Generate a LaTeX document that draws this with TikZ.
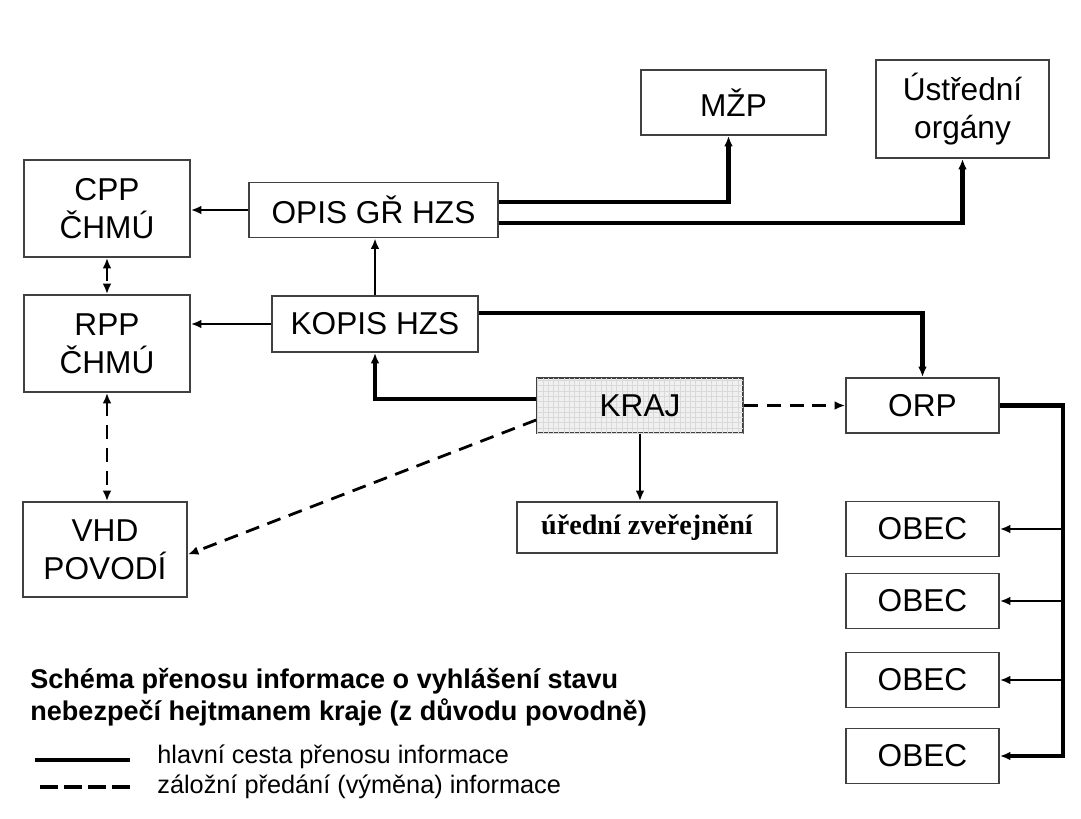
\documentclass[tikz,border=0pt]{standalone}
\usepackage{fontspec}
\setmainfont{Liberation Sans}
\newfontfamily\timesfont{Liberation Serif}
\usetikzlibrary{arrows.meta,patterns}

\begin{document}
\begin{tikzpicture}[x=0.02cm, y=-0.02cm, >={Latex[length=6pt,width=5pt]},
	box/.style={draw=black!75, line width=1pt, align=center, inner sep=0pt,
		font=\fontsize{18}{21.6}\selectfont},
	size/.style 2 args={minimum width=#1*0.02cm, minimum height=#2*0.02cm},
	kraj/.style={fill=gray!12, postaction={pattern=grid, pattern color=gray!30}},
	mainline/.style={line width=1.6pt},
	heavy/.style={line width=2.5pt},
	backup/.style={line width=1.6pt, dash pattern=on 8pt off 5pt},
	heading/.style={anchor=base west, inner sep=0pt, font=\bfseries\fontsize{15.4}{16}\selectfont},
	legend/.style={anchor=west, inner sep=0pt, font=\fontsize{14.4}{16}\selectfont}]
	\useasboundingbox (0,0) rectangle (1081,818);

	\path
		(733.5,102.5) node[box, size={185}{65}] (MZP) {MŽP}
		(962.5,109) node[box, size={173}{98}] (UO) {Ústřední\\orgány}
		(107,208.5) node[box, size={166}{97}] (CPP) {CPP\\ČHMÚ}
		(107,343.5) node[box, size={166}{97}] (RPP) {RPP\\ČHMÚ}
		(373.5,210) node[box, size={249}{55}] (OPIS) {OPIS GŘ HZS}
		(375,324) node[box, size={206}{56}] (KOPIS) {KOPIS HZS}
		(640,405.5) node[box, kraj, size={206}{55}] (KRAJ) {KRAJ}
		(922.5,405.5) node[box, size={153}{55}] (ORP) {ORP}
		(647,527.5) node[box, size={260}{51}, font=\timesfont\bfseries\fontsize{16}{18}\selectfont] (UZ) {úřední zveřejnění}
		(105,549.5) node[box, size={164}{95}] (VHD) {VHD\\POVODÍ}
	;
	\foreach \y [count=\i] in {529,601,680,756}
		\node[box, size={153}{55}] (OB\i) at (922.5,\y) {OBEC};
	\coordinate (bus) at ([xshift=1.26cm]ORP.east);

	\draw[mainline, ->] (OPIS) -- (OPIS -| CPP.east);
	\draw[mainline, ->] (KOPIS) -- (KOPIS -| RPP.east);
	\draw[mainline, ->] (KOPIS) -- (KOPIS |- OPIS.south);
	\draw[mainline, ->] (KRAJ.south) -- (KRAJ.south |- UZ.north);
	\draw[heavy, ->] ([yshift=0.13cm]KRAJ.west) -| (KOPIS.south);
	\draw[heavy, ->] ([yshift=0.16cm]OPIS.east) -| ([xshift=-0.1cm]MZP.south);
	\draw[heavy, ->] ([yshift=-0.26cm]OPIS.east) -| (UO.south);
	\draw[heavy, ->] ([yshift=0.22cm]KOPIS.east) -| (ORP.north);
	\draw[heavy, ->] (ORP.east) -- (bus) |- (OB4.east);
	\foreach \i in {1,2,3}
		\draw[mainline, ->] (bus |- OB\i) -- (OB\i.east);

	\draw[backup, <->] (CPP) -- (RPP);
	\draw[backup, <->] (RPP.south) -- (RPP.south |- VHD.north);
	\draw[backup, ->] (KRAJ) -- (ORP);
	\draw[backup, ->] ([yshift=-0.29cm]KRAJ.west) -- ([yshift=-0.1cm]VHD.east);

	\node[heading] (title1) at (30,688) {Schéma přenosu informace o vyhlášení stavu};
	\node[heading] (title2) at (30,720) {nebezpečí hejtmanem kraje (z důvodu povodně)};

	\coordinate (l1a) at (35,760);
	\coordinate (l1b) at (130,760);
	\coordinate (l2a) at (40,787);
	\coordinate (l2b) at (130,787);
	\draw[line width=2.8pt] (l1a) -- (l1b);
	\draw[line width=2.8pt, dash pattern=on 10pt off 3.7pt] (l2a) -- (l2b);
	\node[legend] (leg1) at (157,757) {hlavní cesta přenosu informace};
	\node[legend] (leg2) at (157,787) {záložní předání (výměna) informace};
\end{tikzpicture}
\end{document}
